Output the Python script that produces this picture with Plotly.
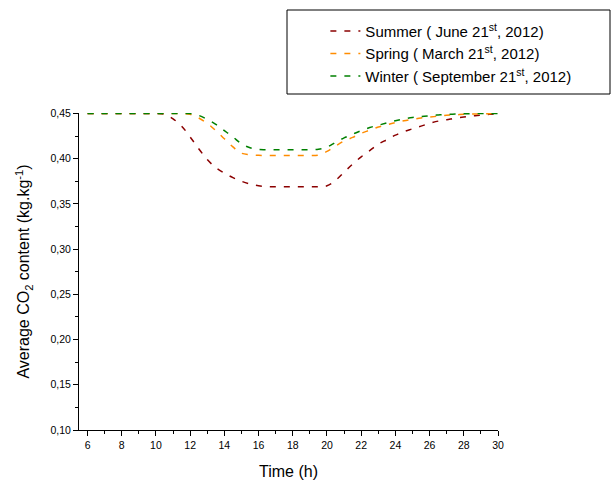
import plotly.graph_objects as go

time_h = [6, 6.5, 7, 7.5, 8, 8.5, 9, 9.5, 10, 10.5, 11, 11.5, 12, 12.5, 13, 13.5, 14, 14.5,
          15, 15.5, 16, 16.5, 17, 17.5, 18, 18.5, 19, 19.5, 20, 20.5, 21, 21.5, 22, 22.5,
          23, 23.5, 24, 24.5, 25, 25.5, 26, 26.5, 27, 27.5, 28, 28.5, 29, 29.5, 30]

summer = [0.45, 0.45, 0.45, 0.45, 0.45, 0.45, 0.45, 0.45, 0.45, 0.449, 0.444, 0.436, 0.424,
          0.411, 0.399, 0.390, 0.384, 0.379, 0.375, 0.372, 0.370, 0.369, 0.369, 0.369, 0.369,
          0.369, 0.369, 0.369, 0.370, 0.376, 0.385, 0.394, 0.402, 0.409, 0.416, 0.421, 0.426,
          0.430, 0.433, 0.436, 0.439, 0.4415, 0.443, 0.4448, 0.446, 0.4472, 0.448, 0.449, 0.4497]

spring = [0.45, 0.45, 0.45, 0.45, 0.45, 0.45, 0.45, 0.45, 0.45, 0.45, 0.45, 0.45, 0.449,
          0.445, 0.439, 0.431, 0.422, 0.413, 0.406, 0.4045, 0.4037, 0.4035, 0.4035, 0.4035,
          0.4035, 0.4035, 0.4035, 0.404, 0.408, 0.414, 0.4195, 0.4235, 0.428, 0.4315, 0.435,
          0.4375, 0.440, 0.442, 0.4435, 0.445, 0.446, 0.447, 0.448, 0.4485, 0.449, 0.4493,
          0.4496, 0.4498, 0.450]

winter = [0.45, 0.45, 0.45, 0.45, 0.45, 0.45, 0.45, 0.45, 0.45, 0.45, 0.45, 0.45, 0.4498,
          0.4478, 0.4435, 0.438, 0.431, 0.424, 0.4165, 0.412, 0.4102, 0.410, 0.410, 0.410,
          0.410, 0.410, 0.410, 0.4105, 0.4128, 0.418, 0.423, 0.427, 0.431, 0.4344, 0.437,
          0.4395, 0.442, 0.444, 0.4455, 0.4465, 0.4475, 0.4483, 0.449, 0.4493, 0.4496,
          0.4498, 0.45, 0.45, 0.45]

series_names = ["Summer ( June 21<sup>st</sup>, 2012)",
                "Spring ( March 21<sup>st</sup>, 2012)",
                "Winter ( September 21<sup>st</sup>, 2012)"]
series_colors = ["#8B0000", "#FF8C00", "#008000"]

x_ticks = [6, 8, 10, 12, 14, 16, 18, 20, 22, 24, 26, 28, 30]
y_ticks = [0.10, 0.15, 0.20, 0.25, 0.30, 0.35, 0.40, 0.45]
y_tick_labels = ["0,10", "0,15", "0,20", "0,25", "0,30", "0,35", "0,40", "0,45"]

fig = go.Figure()
for name, vals, col in zip(series_names, [summer, spring, winter], series_colors):
    fig.add_trace(go.Scatter(x=time_h, y=vals, mode="lines", name=name,
                             line=dict(color=col, width=1.5, dash="6px,8px", shape="spline")))

font_family = "Liberation Sans, Arial, sans-serif"
fig.update_layout(
    width=612, height=484,
    margin=dict(l=79, r=114, t=113, b=54, autoexpand=False),
    paper_bgcolor="white", plot_bgcolor="white",
    font=dict(family=font_family, color="black", size=10),
    showlegend=True,
    legend=dict(x=0.588, y=1.31, xanchor="left", yanchor="top",
                bgcolor="rgba(0,0,0,0)", borderwidth=0,
                font=dict(size=15, family=font_family), tracegroupgap=0),
    shapes=[dict(type="rect", xref="paper", yref="paper",
                 x0=(287 - 79) / 419, x1=(610 - 79) / 419,
                 y0=(430 - 94) / 317, y1=(430 - 10) / 317,
                 line=dict(color="black", width=1), fillcolor="rgba(0,0,0,0)")],
    xaxis=dict(range=[5.5, 30], tickvals=x_ticks, ticks="outside", ticklen=5, tickwidth=1,
               tickcolor="black", showline=True, linecolor="black", linewidth=1,
               showgrid=False, zeroline=False, automargin=False,
               minor=dict(dtick=1, tick0=5, ticks="outside", ticklen=3, tickcolor="black"),
               title=dict(text="Time (h)", font=dict(size=16), standoff=16),
               tickfont=dict(size=10.5)),
    yaxis=dict(range=[0.10, 0.4505], tickvals=y_ticks, ticktext=y_tick_labels,
               ticks="outside", ticklen=5, tickwidth=1, tickcolor="black",
               showline=True, linecolor="black", linewidth=1,
               showgrid=False, zeroline=False, automargin=False,
               minor=dict(dtick=0.025, tick0=0.1, ticks="outside", ticklen=3, tickcolor="black"),
               title=dict(text="Average CO<sub>2</sub> content (kg.kg<sup>-1</sup>)",
                          font=dict(size=16), standoff=16),
               tickfont=dict(size=10.5)),
)

fig.write_html("out.html", config={"displayModeBar": False},
               post_script="document.body.style.margin='0';")
